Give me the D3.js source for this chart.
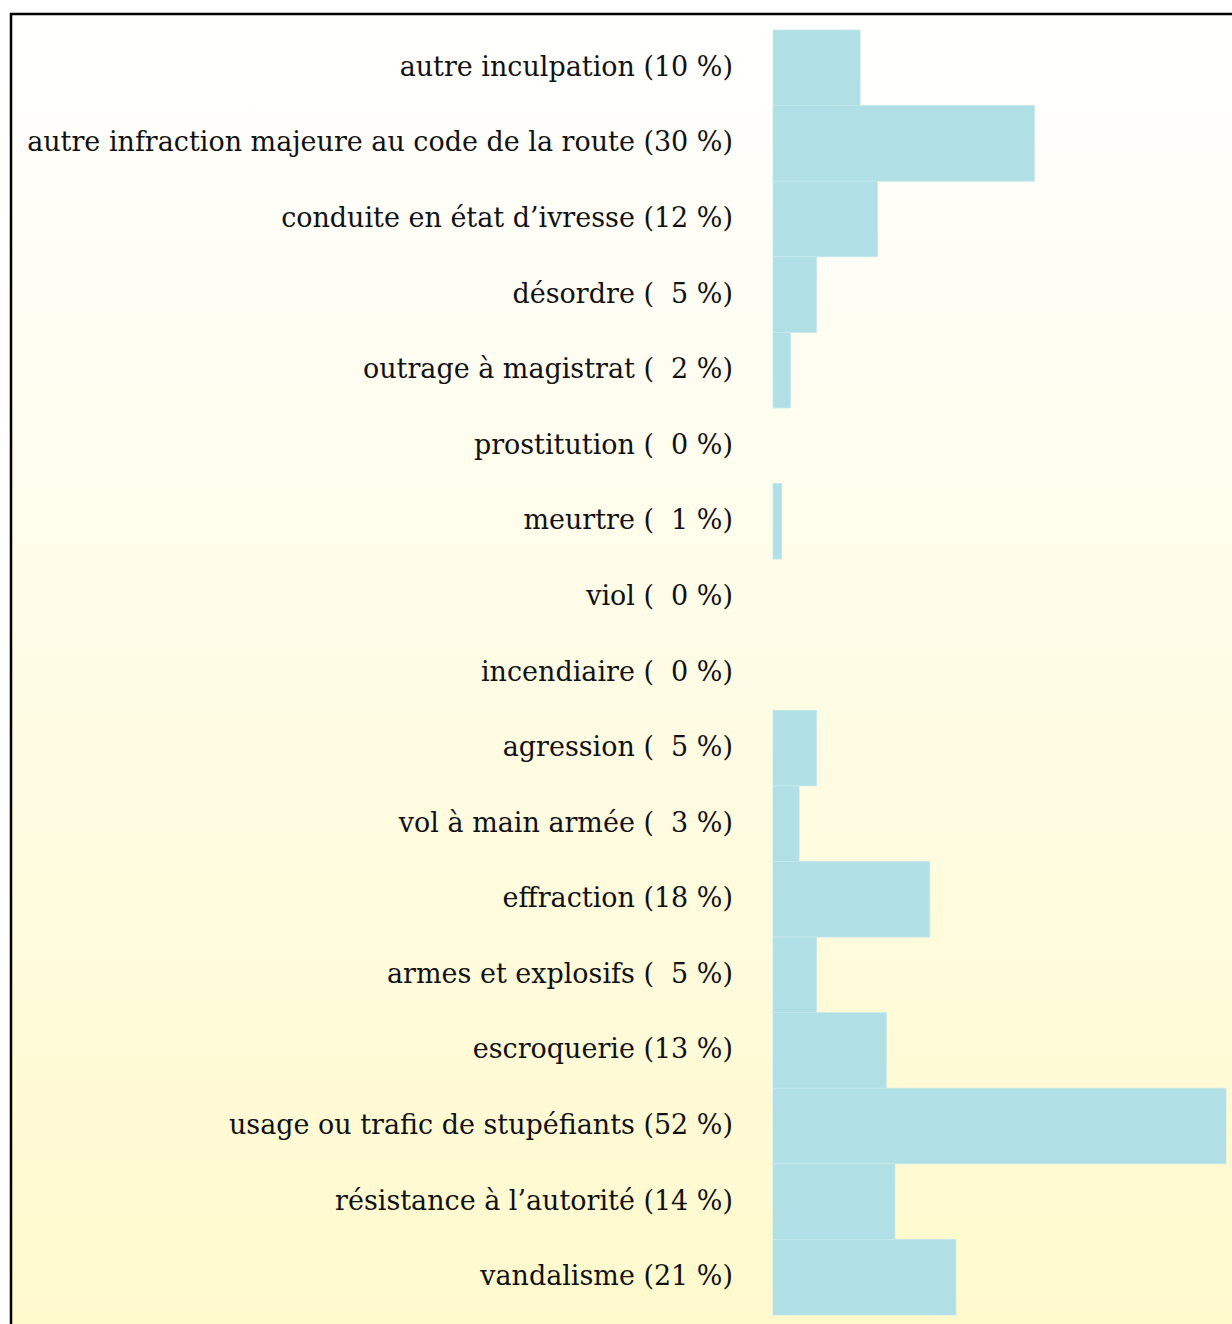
<!DOCTYPE html>
<html><head><meta charset="utf-8">
<script src="https://cdn.jsdelivr.net/npm/d3@7"></script>
<style>html,body{margin:0;padding:0;background:#fff;overflow:hidden}</style>
</head><body>
<svg id="c" width="1232" height="1324"></svg>
<script>
const categories = ["autre inculpation","autre infraction majeure au code de la route","conduite en état d’ivresse","désordre","outrage à magistrat","prostitution","meurtre","viol","incendiaire","agression","vol à main armée","effraction","armes et explosifs","escroquerie","usage ou trafic de stupéfiants","résistance à l’autorité","vandalisme"];
const values = [10,30,12,5,2,0,1,0,0,5,3,18,5,13,52,14,21];

const svg = d3.select("#c");
const defs = svg.append("defs");
const g = defs.append("linearGradient").attr("id","bg").attr("x1",0).attr("y1",0).attr("x2",0).attr("y2",1);
g.append("stop").attr("offset","0%").attr("stop-color","#ffffff");
g.append("stop").attr("offset","100%").attr("stop-color","#fff9cc");

svg.append("rect").attr("x",11).attr("y",14).attr("width",1240).attr("height",1320)
  .attr("fill","url(#bg)").attr("stroke","#000").attr("stroke-width",2.5);

const y = d3.scaleBand().domain(categories).range([30,1315]).padding(0);
const x = d3.scaleLinear().domain([0,52]).range([773,1226]);

const fmt = v => { const s = String(v); return s.length<2 ? "\u2007"+s : s; };

svg.append("g").selectAll("rect").data(categories).join("rect")
  .attr("x",x(0)).attr("y",d=>y(d))
  .attr("width",(d,i)=>x(values[i])-x(0)).attr("height",y.bandwidth())
  .attr("fill","#b0e0e6")
  .attr("stroke",(d,i)=>values[i]>0?"#c4e8ec":"none").attr("stroke-width",0.8);

const labels = svg.append("g").attr("font-family","'DejaVu Serif', serif").attr("fill","#111")
  .selectAll("text").data(categories).join("text")
  .attr("x",733).attr("y",d=>y(d)+y.bandwidth()/2+8)
  .attr("text-anchor","end").attr("xml:space","preserve").style("white-space","pre")
  .attr("font-size",26)
  .text((d,i)=>d+" ("+fmt(values[i])+" %)");
const w = labels.nodes()[1].getComputedTextLength();
labels.attr("font-size",26*706/w);
</script>
</body></html>
